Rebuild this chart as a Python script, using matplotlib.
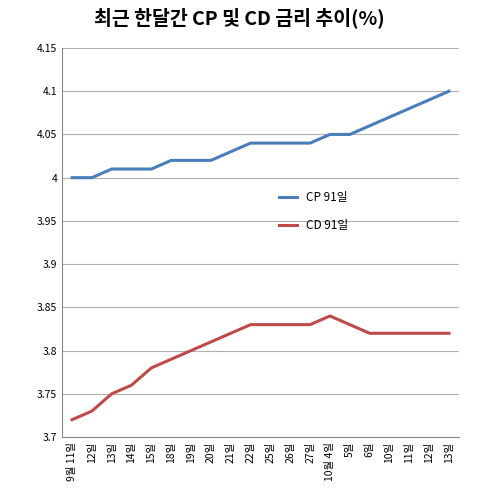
import matplotlib
matplotlib.use("Agg")
import matplotlib.pyplot as plt

plt.rcParams['font.family'] = ['Noto Sans CJK KR', 'DejaVu Sans']

dates = ["9월 11일", "12일", "13일", "14일", "15일", "18일", "19일", "20일", "21일", "22일",
         "25일", "26일", "27일", "10월 4일", "5일", "6일", "10일", "11일", "12일", "13일"]
cp91 = [4.00, 4.00, 4.01, 4.01, 4.01, 4.02, 4.02, 4.02, 4.03, 4.04,
        4.04, 4.04, 4.04, 4.05, 4.05, 4.06, 4.07, 4.08, 4.09, 4.10]
cd91 = [3.72, 3.73, 3.75, 3.76, 3.78, 3.79, 3.80, 3.81, 3.82, 3.83,
        3.83, 3.83, 3.83, 3.84, 3.83, 3.82, 3.82, 3.82, 3.82, 3.82]
yticks = [3.7, 3.75, 3.8, 3.85, 3.9, 3.95, 4, 4.05, 4.1, 4.15]
ylabels = ["3.7", "3.75", "3.8", "3.85", "3.9", "3.95", "4", "4.05", "4.1", "4.15"]

fig = plt.figure(figsize=(4.78, 5.0), dpi=100)
ax = fig.add_axes([0.13, 0.126, 0.83, 0.778])
x = range(len(dates))
ax.plot(x, cp91, color='#4a7ebb', lw=2.2, label='CP 91일')
ax.plot(x, cd91, color='#be4b48', lw=2.2, label='CD 91일')
ax.set_xlim(-0.5, len(dates) - 0.5)
ax.set_ylim(3.7, 4.15)
ax.set_yticks(yticks)
ax.set_yticklabels(ylabels)
ax.set_xticks(list(x))
ax.set_xticklabels(dates, rotation=90, va='top')
ax.tick_params(labelsize=7.5, length=0)
ax.grid(axis='y', color='#b0b0b0', lw=0.8)
ax.set_axisbelow(True)
for s in ['top', 'right']:
    ax.spines[s].set_visible(False)
for s in ['left', 'bottom']:
    ax.spines[s].set_color('#888888')
ax.legend(loc='upper left', bbox_to_anchor=(0.52, 0.66), frameon=False, fontsize=8.5,
          handlelength=1.5, labelspacing=1.3)
fig.suptitle('최근 한달간 CP 및 CD 금리 추이(%)', fontsize=14, fontweight='bold', y=0.985)
fig.savefig('out.png')
